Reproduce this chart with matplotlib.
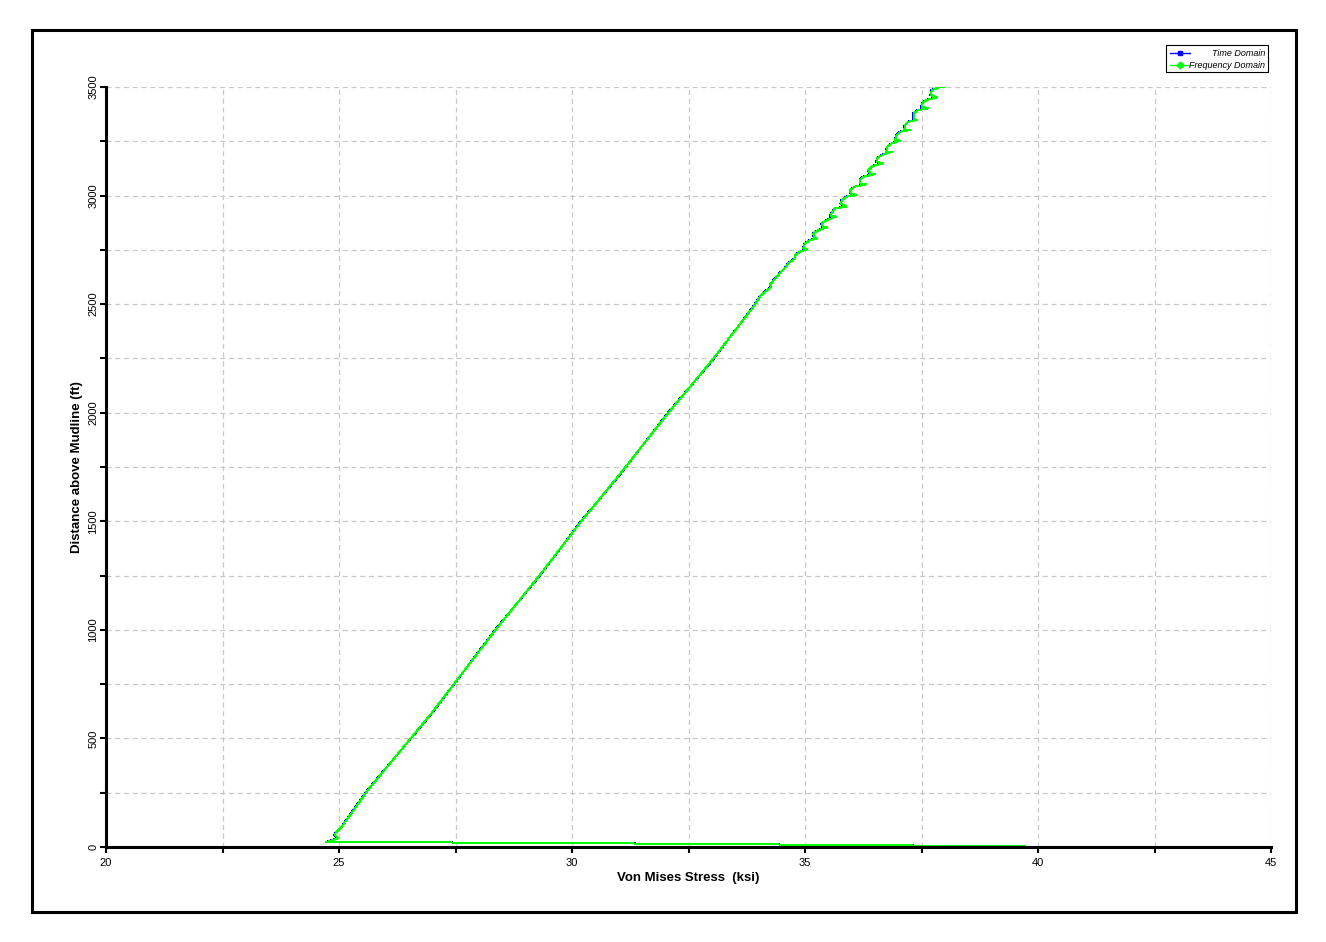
import matplotlib.pyplot as plt
from matplotlib.patches import Rectangle
from matplotlib.lines import Line2D

plt.rcParams['font.family'] = ['Liberation Sans', 'DejaVu Sans']

# distance above mudline (ft), shared by both series, read top to bottom
dist_ft = [3500, 3500, 3486, 3463, 3452, 3440, 3428, 3409, 3402, 3394, 3378, 3355, 3348,
           3340, 3325, 3305, 3302, 3294, 3279, 3256, 3253, 3240, 3225, 3202, 3202, 3187,
           3171, 3156, 3148, 3136, 3118, 3102, 3098, 3087, 3071, 3056, 3052, 3041, 3025,
           3010, 3002, 2995, 2979, 2964, 2949, 2941, 2918, 2906, 2903, 2887, 2872, 2857,
           2854, 2841, 2826, 2811, 2803, 2795, 2780, 2757, 2752, 2741, 2726, 2711, 2688,
           2665, 2642,
           2590, 2580, 2540, 2490, 2240, 2000, 1710, 1500, 1250, 1000, 620, 262, 147, 93,
           70, 55, 40, 22,
           21.5, 17, 12, 7.5, 3]

# frequency domain von mises stress (ksi)
freq_ksi = [38.00, 37.90, 37.72, 37.70, 37.83, 37.61, 37.53, 37.50, 37.65, 37.43, 37.33, 37.33, 37.40,
            37.22, 37.15, 37.13, 37.25, 37.04, 36.97, 36.93, 37.05, 36.86, 36.77, 36.74, 36.86, 36.65,
            36.55, 36.54, 36.67, 36.45, 36.36, 36.40, 36.50, 36.25, 36.18, 36.18, 36.31, 36.07, 35.97,
            35.98, 36.11, 35.89, 35.79, 35.77, 35.89, 35.64, 35.57, 35.55, 35.67, 35.47, 35.36, 35.38,
            35.47, 35.29, 35.18, 35.19, 35.25, 35.11, 35.00, 34.96, 35.04, 34.89, 34.79, 34.79, 34.64,
            34.57, 34.46,
            34.25, 34.28, 34.05, 33.90, 33.00, 32.07, 31.00, 30.20, 29.30, 28.36, 27.00, 25.62, 25.24, 25.06,
            24.95, 24.91, 24.98, 24.72,
            26.72, 30.73, 34.13, 36.93, 39.72]

# time domain von mises stress (ksi)
time_ksi = [37.99, 37.89, 37.71, 37.69, 37.79, 37.60, 37.52, 37.49, 37.61, 37.42, 37.32, 37.32, 37.36,
            37.21, 37.14, 37.12, 37.21, 37.03, 36.96, 36.92, 37.01, 36.85, 36.76, 36.73, 36.82, 36.64,
            36.54, 36.53, 36.63, 36.44, 36.35, 36.39, 36.46, 36.24, 36.17, 36.17, 36.27, 36.06, 35.96,
            35.97, 36.07, 35.88, 35.78, 35.76, 35.85, 35.63, 35.56, 35.54, 35.63, 35.46, 35.35, 35.37,
            35.43, 35.28, 35.17, 35.18, 35.22, 35.10, 34.99, 34.95, 35.01, 34.88, 34.78, 34.78, 34.63,
            34.56, 34.45,
            34.24, 34.26, 34.04, 33.89, 33.01, 32.06, 31.01, 30.19, 29.31, 28.35, 27.01, 25.61, 25.23, 25.05,
            24.94, 24.90, 24.97, 24.71,
            26.74, 30.76, 34.16, 36.96, 39.72]

x_major = [20, 25, 30, 35, 40, 45]
y_major = [0, 500, 1000, 1500, 2000, 2500, 3000, 3500]

fig = plt.figure(figsize=(13.26, 9.42), dpi=100)
ax = fig.add_axes([106/1326, 1 - 847/942, (1271-106)/1326, (847-87)/942])

ax.plot(time_ksi, dist_ft, color='#0000ff', lw=0.72, antialiased=False, zorder=3)
ax.plot(freq_ksi, dist_ft, color='#00ff00', lw=0.72, antialiased=False, zorder=4)

ax.set_xlim(20, 45)
ax.set_ylim(0, 3500)
ax.set_xticks(x_major)
ax.set_xticks([22.5, 27.5, 32.5, 37.5, 42.5], minor=True)
ax.set_yticks(y_major)
ax.set_yticks([250, 750, 1250, 1750, 2250, 2750, 3250], minor=True)
ax.tick_params(which='both', direction='out', length=4, width=1.5, color='black',
               labelsize=8, pad=4)
ax.tick_params(axis='y', which='both', pad=1.5)
for lab in ax.get_yticklabels():
    lab.set_rotation(90)
    lab.set_va('center')

ax.grid(which='both', color='#c8c8c8', linestyle=(0, (4, 3)), lw=0.9)
ax.set_axisbelow(True)

for s in ['top', 'right']:
    ax.spines[s].set_visible(False)
for s in ['left', 'bottom']:
    ax.spines[s].set_linewidth(2.2)
    ax.spines[s].set_zorder(5)

ax.set_xlabel('Von Mises Stress  (ksi)', fontsize=9.5, fontweight='bold', labelpad=3)
ax.set_ylabel('Distance above Mudline (ft)', fontsize=9.5, fontweight='bold', labelpad=4)

# outer frame
fig.patches.append(Rectangle((32/1326, 1 - 912/942), (1296-32)/1326, (912-30)/942,
                             transform=fig.transFigure, fill=False, ec='black', lw=2.2))

# legend box
W, H = 1326, 942
fig.patches.append(Rectangle((1166/W, 1 - 72/H), (1268-1166)/W, (72-45)/H,
                             transform=fig.transFigure, fill=True, fc='white', ec='black', lw=0.8))
rows = [('Time Domain', '#0000ff', 's', 53), ('Frequency Domain', '#00ff00', 'D', 65)]
for label, col, mk, ypx in rows:
    fig.lines.append(Line2D([1170/W, 1190/W], [1 - ypx/H, 1 - ypx/H], color=col, lw=1.0,
                            transform=fig.transFigure))
    fig.lines.append(Line2D([1180/W], [1 - ypx/H], color=col, marker=mk, markersize=3.5,
                            transform=fig.transFigure))
    fig.text(1265/W, 1 - ypx/H, label, ha='right', va='center', fontsize=6.5, style='italic')

fig.savefig('out.png', dpi=100)
